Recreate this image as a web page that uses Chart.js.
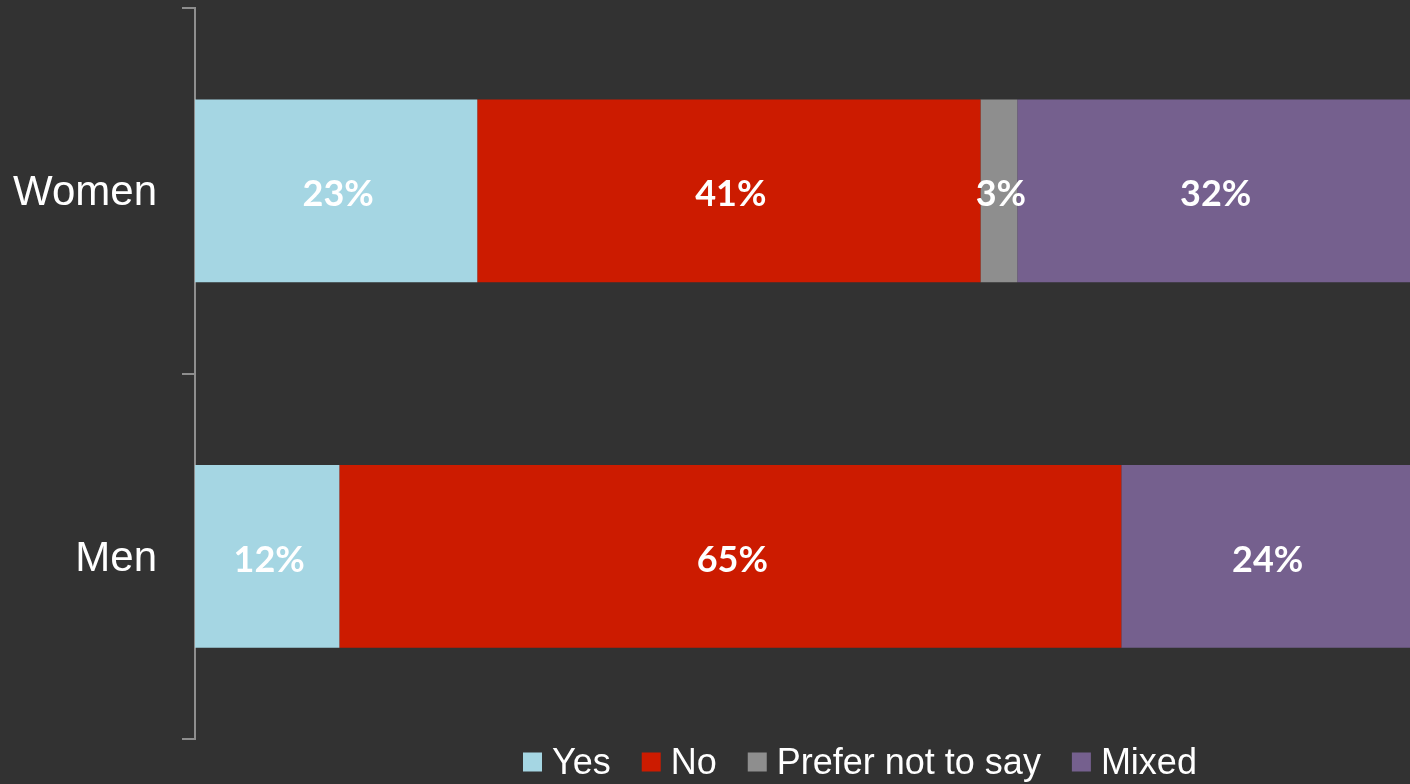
<!DOCTYPE html>
<html>
<head>
<meta charset="utf-8">
<title>Women and Men responses</title>
<script src="https://cdn.jsdelivr.net/npm/chart.js@4/dist/chart.umd.min.js"></script>
<style>
  html, body { margin: 0; padding: 0; background: #323232; }
  #wrap { width: 1410px; height: 784px; position: relative; }
</style>
</head>
<body>
<div id="wrap"><canvas id="chart"></canvas></div>
<script>
// Survey answers (percent) by group
const categories = ['Women', 'Men'];
const yesValues = [23, 12];
const noValues = [41, 65];
const preferNotValues = [3, 0];
const mixedValues = [32, 24];

const seriesNames = ['Yes', 'No', 'Prefer not to say', 'Mixed'];
const seriesColors = ['#a5d6e3', '#cc1b00', '#8e8e8e', '#75608e'];
const seriesValues = [yesValues, noValues, preferNotValues, mixedValues];

// Each bar is a 100% stack: segment length = share of the group's total
const totals = categories.map((_, i) => seriesValues.reduce((s, arr) => s + arr[i], 0));

const datasets = seriesValues.map((arr, k) => ({
  label: seriesNames[k],
  data: arr.map((v, i) => v / totals[i] * 100),
  rawValues: arr,
  backgroundColor: seriesColors[k],
  borderWidth: 0,
  categoryPercentage: 1.0,
  barPercentage: 0.5
}));

// Value labels in the middle of every segment
const segmentLabels = {
  id: 'segmentLabels',
  afterDatasetsDraw(chart) {
    const ctx = chart.ctx;
    ctx.save();
    ctx.fillStyle = '#ffffff';
    ctx.font = 'bold 36px Lato, "Open Sans", sans-serif';
    ctx.textAlign = 'center';
    ctx.textBaseline = 'middle';
    chart.data.datasets.forEach((ds, di) => {
      const meta = chart.getDatasetMeta(di);
      meta.data.forEach((bar, i) => {
        const v = ds.rawValues[i];
        if (!v) return;
        const p = bar.getProps(['x', 'y', 'base'], true);
        const cx = (p.x + p.base) / 2;
        ctx.fillText(v + '%', cx + 2, p.y + 4);
      });
    });
    ctx.restore();
  }
};

// Legend row under the plot
const bottomLegend = {
  id: 'bottomLegend',
  afterDraw(chart) {
    const ctx = chart.ctx;
    const box = 19, textGap = 10, itemGap = 31;
    const font = '36px "Liberation Sans", Arial, sans-serif';
    ctx.save();
    ctx.font = font;
    ctx.textBaseline = 'middle';
    ctx.textAlign = 'left';
    let x = 523;
    const cy = 762;
    chart.data.datasets.forEach(ds => {
      ctx.fillStyle = ds.backgroundColor;
      ctx.fillRect(x, cy - box / 2, box, box);
      x += box + textGap;
      ctx.fillStyle = '#ffffff';
      ctx.fillText(ds.label, x, cy + 2);
      x += ctx.measureText(ds.label).width + itemGap;
    });
    ctx.restore();
  }
};

new Chart(document.getElementById('chart'), {
  type: 'bar',
  data: { labels: categories, datasets },
  options: {
    indexAxis: 'y',
    responsive: true,
    maintainAspectRatio: false,
    animation: false,
    layout: { padding: { top: 8, bottom: 45, left: 0, right: 0 } },
    plugins: {
      legend: { display: false },
      tooltip: { enabled: false }
    },
    scales: {
      x: {
        stacked: true,
        min: 0,
        max: 100,
        display: false
      },
      y: {
        stacked: true,
        afterFit(scale) {
          scale.width = 195;
          scale.paddingTop = 0;
          scale.paddingBottom = 0;
        },
        border: { display: true, color: '#8e8e8e', width: 2 },
        grid: {
          offset: true,
          drawOnChartArea: false,
          drawTicks: true,
          tickLength: 13,
          color: '#8e8e8e',
          lineWidth: 2
        },
        ticks: {
          color: '#ffffff',
          padding: 25,
          labelOffset: 3,
          font: { family: '"Liberation Sans", Arial, sans-serif', size: 42 }
        }
      }
    }
  },
  plugins: [segmentLabels, bottomLegend]
});
</script>
</body>
</html>
